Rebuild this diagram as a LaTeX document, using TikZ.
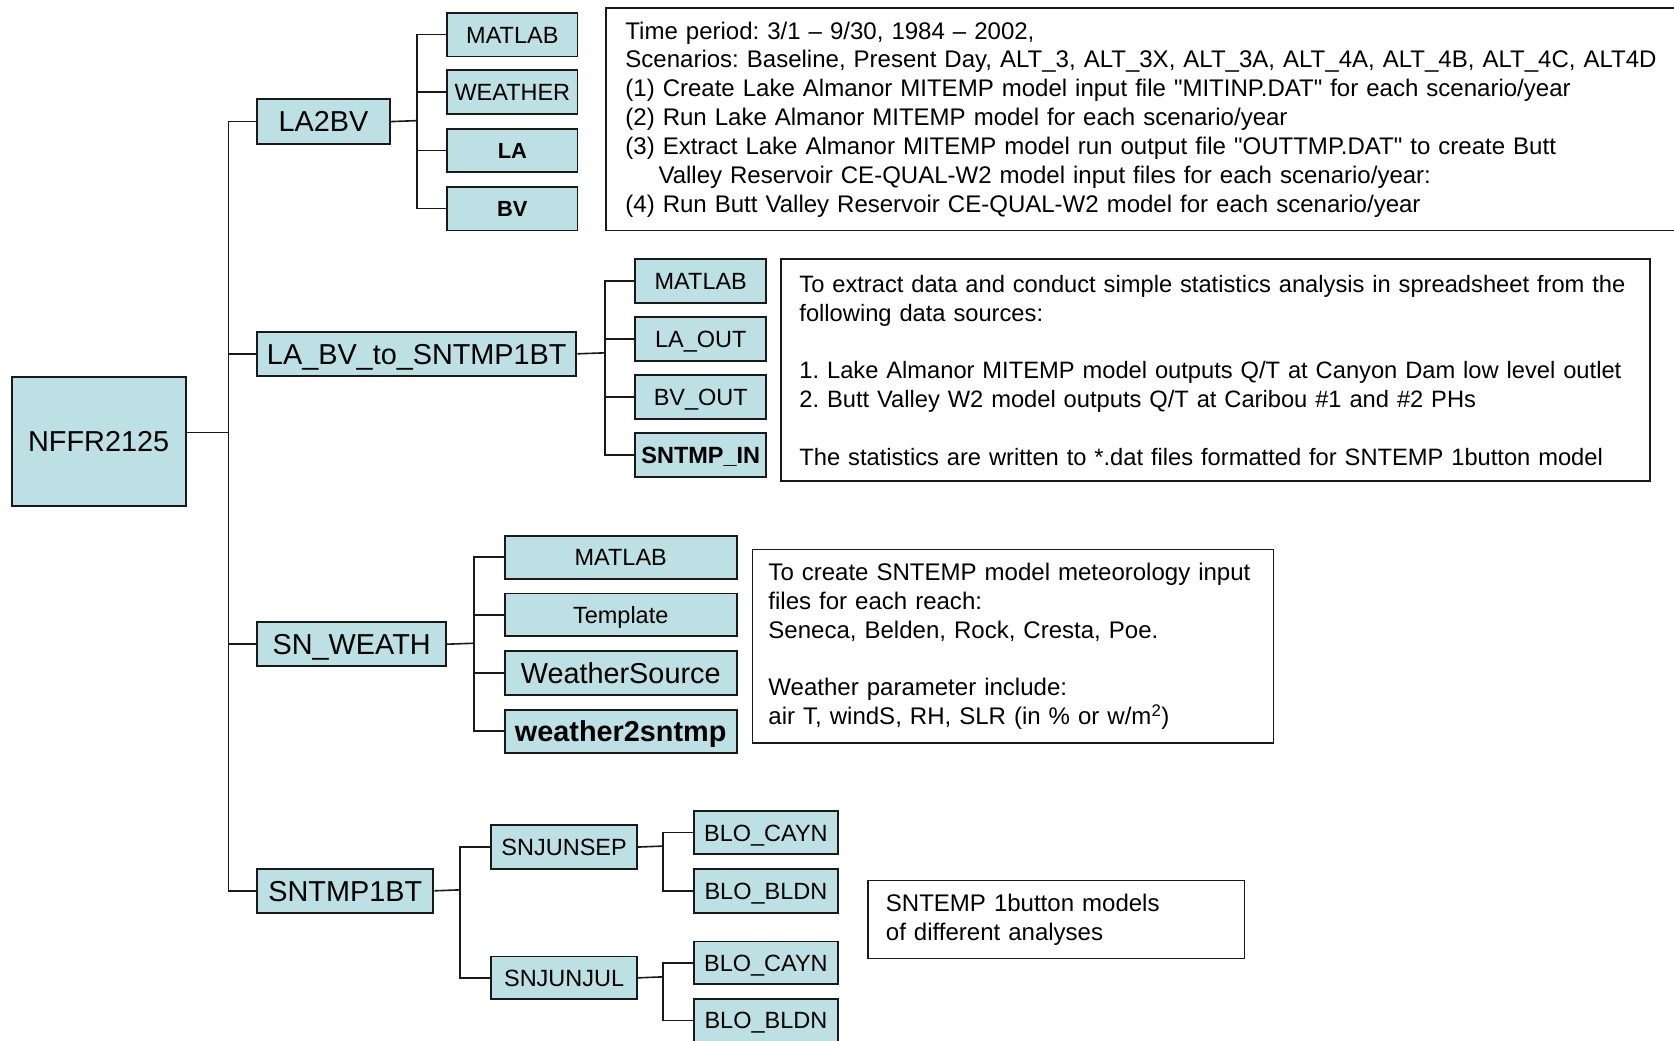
\documentclass[tikz,border=0pt]{standalone}
\usepackage{fontspec}
\newfontfamily\arialf{Liberation Sans}
\definecolor{boxfill}{RGB}{188,224,227}
\definecolor{edge}{RGB}{25,25,25}
\newcommand\fsBig{\arialf\fontsize{27}{32}\selectfont}
\newcommand\fsMid{\arialf\fontsize{22}{26}\selectfont}
\newcommand\fsSml{\arialf\fontsize{20.5}{24}\selectfont}
\newcommand\fsTxt{\arialf\fontsize{22.5}{27}\selectfont}
\newcommand\fsTxtB{\arialf\fontsize{22.2}{27}\selectfont}
\frenchspacing
\begin{document}
\begin{tikzpicture}[x=1pt,y=-1pt,
  blk/.style={draw=edge, fill=boxfill, line width=1.8pt, inner sep=0pt, anchor=north west, text=black, text depth=0pt},
  big/.style={blk, font=\fsBig, text height=19.3pt},
  mid/.style={blk, font=\fsMid, text height=15.8pt},
  sml/.style={blk, font=\fsSml\bfseries, text height=14.8pt},
  conn/.style={draw=edge, line width=1.5pt},
  note/.style={draw=edge, line width=1.6pt, anchor=north west, align=left, inner ysep=0pt, font=\fsTxt}]
\fill[white] (0,0) rectangle (1568,975);
\useasboundingbox (0,0) rectangle (1568,975);

% root
\node[big, minimum width=163pt, minimum height=121pt] (root) at (10,352) {NFFR2125};

% level 1
\node[big, minimum width=124pt, minimum height=42pt] (la2bv) at (240,92) {LA2BV};
\node[big, minimum width=299pt, minimum height=41pt] (labv) at (240,310) {LA\_BV\_to\_SNTMP1BT};
\node[big, minimum width=177pt, minimum height=41pt] (snw) at (240,582) {SN\_WEATH};
\node[big, minimum width=165pt, minimum height=41pt] (snt) at (240,813) {SNTMP1BT};

% LA2BV children
\node[mid, minimum width=122pt, minimum height=41pt] (a1) at (418,11) {MATLAB};
\node[mid, minimum width=122pt, minimum height=41pt] (a2) at (418,65) {WEATHER};
\node[sml, minimum width=122pt, minimum height=41pt] (a3) at (418,119.5) {LA};
\node[sml, minimum width=122pt, minimum height=41pt] (a4) at (418,174) {BV};

% LA_BV_to_SNTMP1BT children
\node[mid, minimum width=123pt, minimum height=41pt] (b1) at (594,242) {MATLAB};
\node[mid, minimum width=123pt, minimum height=41pt] (b2) at (594,296) {LA\_OUT};
\node[mid, minimum width=123pt, minimum height=41pt] (b3) at (594,350.5) {BV\_OUT};
\node[mid, font=\fsMid\bfseries, minimum width=123pt, minimum height=41pt] (b4) at (594,405) {SNTMP\_IN};

% SN_WEATH children
\node[mid, minimum width=217pt, minimum height=40pt] (c1) at (472,501) {MATLAB};
\node[mid, minimum width=217pt, minimum height=40pt] (c2) at (472,555) {Template};
\node[big, minimum width=217pt, minimum height=41pt] (c3) at (472,609) {WeatherSource};
\node[big, font=\fsBig\bfseries, minimum width=217pt, minimum height=40pt] (c4) at (472,664) {weather2sntmp};

% SNTMP1BT children
\node[mid, minimum width=137pt, minimum height=41pt] (d1) at (459,772) {SNJUNSEP};
\node[mid, minimum width=137pt, minimum height=40pt] (d2) at (459,895) {SNJUNJUL};
\node[mid, minimum width=135pt, minimum height=40pt] (e1) at (649,759) {BLO\_CAYN};
\node[mid, minimum width=135pt, minimum height=41pt] (e2) at (649,813) {BLO\_BLDN};
\node[mid, minimum width=135pt, minimum height=40pt] (e3) at (649,881) {BLO\_CAYN};
\node[mid, minimum width=135pt, minimum height=40pt] (e4) at (649,935) {BLO\_BLDN};

% notes
\node[note, inner xsep=18pt, text width=1000pt, minimum height=208pt] (n1) at (567,7) {%
Time period: 3/1 \textendash{} 9/30, 1984 \textendash{} 2002,\\
Scenarios: Baseline, Present Day, ALT\_3, ALT\_3X, ALT\_3A, ALT\_4A, ALT\_4B, ALT\_4C, ALT4D\\
(1) Create Lake Almanor MITEMP model input file "MITINP.DAT" for each scenario/year\\
(2) Run Lake Almanor MITEMP model for each scenario/year\\
(3) Extract Lake Almanor MITEMP model run output file "OUTTMP.DAT" to create Butt\\
\hspace*{31pt}Valley Reservoir CE-QUAL-W2 model input files for each scenario/year:\\
(4) Run Butt Valley Reservoir CE-QUAL-W2 model for each scenario/year};

\node[note, font=\fsTxtB, inner xsep=17pt, text width=780pt, minimum height=208pt] (n2) at (731,242) {%
\mbox{To extract data and conduct simple statistics analysis in spreadsheet from the}\\
\mbox{following data sources:}\\[27pt]
\mbox{1. Lake Almanor MITEMP model outputs Q/T at Canyon Dam low level outlet}\\
\mbox{2. Butt Valley W2 model outputs Q/T at Caribou \#1 and \#2 PHs}\\[27pt]
\mbox{The statistics are written to *.dat files formatted for SNTEMP 1button model}};

\node[note, inner xsep=15pt, text width=458pt, minimum height=181pt] (n3) at (704,514) {%
To create SNTEMP model meteorology input\\
files for each reach:\\
Seneca, Belden, Rock, Cresta, Poe.\\[27pt]
Weather parameter include:\\
air T, windS, RH, SLR (in \% or w/m\textsuperscript{2})};

\node[note, inner xsep=17pt, text width=319pt, minimum height=73pt] (n4) at (812,824) {%
SNTEMP 1button models\\
of different analyses};

% trunk
\coordinate (t0) at (214,405);
\draw[conn] (root.east |- t0) -- (t0);
\draw[conn] (la2bv.west) -| (t0) |- (snt.west);
\draw[conn] (t0 |- labv.west) -- (labv.west);
\draw[conn] (t0 |- snw.west) -- (snw.west);

% LA2BV group
\coordinate (ba) at (390.5,113);
\draw[conn] (la2bv.east) -- (ba);
\draw[conn] (a1.west) -| (ba) |- (a4.west);
\draw[conn] (ba |- a2.west) -- (a2.west);
\draw[conn] (ba |- a3.west) -- (a3.west);

% LA_BV group
\coordinate (bb) at (566.5,330.5);
\draw[conn] (labv.east) -- (bb);
\draw[conn] (b1.west) -| (bb) |- (b4.west);
\draw[conn] (bb |- b2.west) -- (b2.west);
\draw[conn] (bb |- b3.west) -- (b3.west);

% SN_WEATH group
\coordinate (bc) at (444,602.5);
\draw[conn] (snw.east) -- (bc);
\draw[conn] (c1.west) -| (bc) |- (c4.west);
\draw[conn] (bc |- c2.west) -- (c2.west);
\draw[conn] (bc |- c3.west) -- (c3.west);

% SNTMP1BT group
\coordinate (bd) at (431,833.5);
\draw[conn] (snt.east) -- (bd);
\draw[conn] (d1.west) -| (bd) |- (d2.west);

\coordinate (be) at (621,792.5);
\draw[conn] (d1.east) -- (be);
\draw[conn] (e1.west) -| (be) |- (e2.west);

\coordinate (bf) at (621,915);
\draw[conn] (d2.east) -- (bf);
\draw[conn] (e3.west) -| (bf) |- (e4.west);
\end{tikzpicture}
\end{document}
